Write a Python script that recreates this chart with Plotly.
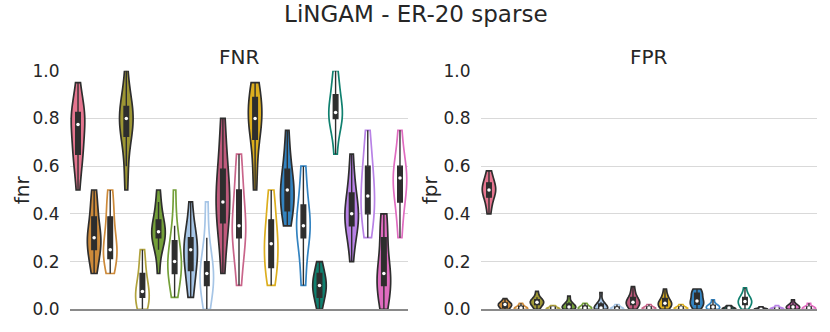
import numpy as np
import plotly.graph_objects as go

# one colour per method, "F" = filled violin, "H" = hollow violin
colors = ["#e5758f", "#cd8a3a", "#cd8a3a", "#9d9634", "#b0a23c", "#74a03a", "#74a03a",
          "#a6c5e6", "#a6c5e6", "#bf5a7c", "#c9658a", "#dcae1e", "#dcae1e",
          "#3383c0", "#3383c0", "#10806f", "#10806f", "#b882e6", "#b882e6",
          "#e06cc0", "#e06cc0"]
styles = ["F", "F", "H", "F", "H", "F", "H", "F", "H", "F", "H",
          "F", "H", "F", "H", "F", "H", "F", "H", "F", "H"]

fnr = [
    [0.5, 0.6, 0.65, 0.65, 0.7, 0.75, 0.8, 0.8, 0.8, 0.85, 0.85, 0.95],
    [0.15, 0.2, 0.25, 0.25, 0.3, 0.3, 0.3, 0.35, 0.4, 0.45, 0.5],
    [0.15, 0.2, 0.2, 0.25, 0.25, 0.25, 0.3, 0.35, 0.4, 0.45, 0.5],
    [0.5, 0.6, 0.7, 0.75, 0.75, 0.8, 0.8, 0.8, 0.85, 0.85, 0.9, 1.0],
    [0.0, 0.0, 0.05, 0.05, 0.05, 0.1, 0.1, 0.15, 0.2, 0.25],
    [0.15, 0.25, 0.3, 0.3, 0.3, 0.3, 0.35, 0.35, 0.35, 0.4, 0.45, 0.5],
    [0.05, 0.1, 0.15, 0.15, 0.2, 0.2, 0.2, 0.25, 0.3, 0.35, 0.5],
    [0.05, 0.1, 0.15, 0.2, 0.2, 0.25, 0.25, 0.3, 0.3, 0.35, 0.45],
    [0.0, 0.05, 0.1, 0.1, 0.15, 0.15, 0.2, 0.2, 0.3, 0.45],
    [0.15, 0.3, 0.35, 0.4, 0.45, 0.45, 0.5, 0.55, 0.6, 0.7, 0.8],
    [0.1, 0.2, 0.3, 0.3, 0.35, 0.35, 0.4, 0.5, 0.55, 0.65],
    [0.5, 0.6, 0.7, 0.75, 0.8, 0.8, 0.8, 0.85, 0.9, 0.9, 0.95],
    [0.1, 0.15, 0.15, 0.2, 0.25, 0.25, 0.3, 0.3, 0.35, 0.4, 0.45, 0.5],
    [0.35, 0.4, 0.4, 0.45, 0.5, 0.5, 0.5, 0.55, 0.6, 0.65, 0.75],
    [0.1, 0.15, 0.3, 0.3, 0.35, 0.35, 0.35, 0.4, 0.45, 0.55, 0.6],
    [0.0, 0.05, 0.05, 0.1, 0.1, 0.1, 0.15, 0.15, 0.2],
    [0.65, 0.75, 0.8, 0.8, 0.8, 0.85, 0.85, 0.9, 0.95, 1.0],
    [0.2, 0.3, 0.35, 0.35, 0.4, 0.4, 0.4, 0.45, 0.5, 0.55, 0.65],
    [0.3, 0.35, 0.4, 0.45, 0.45, 0.5, 0.55, 0.6, 0.65, 0.75],
    [0.0, 0.05, 0.1, 0.1, 0.15, 0.15, 0.2, 0.3, 0.35, 0.4],
    [0.3, 0.4, 0.45, 0.5, 0.55, 0.55, 0.55, 0.6, 0.65, 0.75],
]

fpr = [
    [0.4, 0.44, 0.47, 0.49, 0.5, 0.5, 0.51, 0.53, 0.55, 0.58],
    [0.0, 0.0, 0.01, 0.015, 0.02, 0.02, 0.025, 0.03, 0.045],
    [0.0, 0.0, 0.0, 0.005, 0.005, 0.01, 0.015, 0.025],
    [0.0, 0.01, 0.02, 0.025, 0.03, 0.03, 0.035, 0.04, 0.05, 0.075],
    [0.0, 0.0, 0.0, 0.005, 0.005, 0.01, 0.015],
    [0.0, 0.0, 0.005, 0.01, 0.01, 0.015, 0.02, 0.03, 0.055],
    [0.0, 0.0, 0.005, 0.005, 0.01, 0.015, 0.025],
    [0.0, 0.0, 0.0, 0.005, 0.005, 0.01, 0.02, 0.03, 0.07],
    [0.0, 0.0, 0.0, 0.005, 0.01, 0.02],
    [0.0, 0.01, 0.02, 0.025, 0.03, 0.03, 0.04, 0.05, 0.07, 0.095],
    [0.0, 0.0, 0.005, 0.005, 0.01, 0.02],
    [0.0, 0.01, 0.015, 0.02, 0.025, 0.025, 0.035, 0.045, 0.06, 0.085],
    [0.0, 0.0, 0.005, 0.005, 0.01, 0.02],
    [0.0, 0.01, 0.02, 0.025, 0.03, 0.035, 0.05, 0.06, 0.07, 0.075, 0.085],
    [0.0, 0.0, 0.005, 0.01, 0.01, 0.015, 0.02, 0.04],
    [0.0, 0.0, 0.0, 0.005, 0.005, 0.01, 0.015],
    [0.0, 0.01, 0.02, 0.025, 0.03, 0.035, 0.045, 0.05, 0.06, 0.09],
    [0.0, 0.0, 0.0, 0.0, 0.005, 0.01],
    [0.0, 0.0, 0.0, 0.005, 0.005, 0.015],
    [0.0, 0.0, 0.005, 0.01, 0.01, 0.015, 0.02, 0.04],
    [0.0, 0.0, 0.005, 0.005, 0.01, 0.025],
]

ytick_vals = [0.0, 0.2, 0.4, 0.6, 0.8, 1.0]
ytick_text = ["0.0", "0.2", "0.4", "0.6", "0.8", "1.0"]

DARK = "#2e2e2e"
fig = go.Figure()

for panel, (data, xa, ya) in enumerate([(fnr, "x", "y"), (fpr, "x2", "y2")]):
    for i, vals in enumerate(data):
        v = np.array(vals)
        # seaborn-style scott bandwidth
        bw = max(np.std(v, ddof=1) * len(v) ** -0.2, 1e-3)
        filled = styles[i] == "F"
        fig.add_trace(go.Violin(
            y=v, x0=i, xaxis=xa, yaxis=ya,
            width=0.84, spanmode="hard", bandwidth=bw,
            points=False, scalemode="width",
            fillcolor=colors[i] if filled else "white",
            opacity=1,
            line=dict(color=DARK if filled else colors[i], width=1.7),
            box=dict(visible=True, width=0.34, fillcolor=DARK,
                     line=dict(color=DARK, width=1.4)),
            meanline=dict(visible=False),
            hoverinfo="skip", showlegend=False,
        ))
    fig.add_trace(go.Scatter(
        x=list(range(len(data))), y=[np.median(v) for v in data],
        xaxis=xa, yaxis=ya, mode="markers",
        marker=dict(color="white", size=3.5),
        hoverinfo="skip", showlegend=False,
    ))

yax = dict(range=[0, 1], domain=[0.0684, 0.787], tickvals=ytick_vals,
           ticktext=ytick_text, showgrid=True, gridcolor="#d9d9d9",
           gridwidth=1, zeroline=False, showline=False, ticks="outside",
           ticklen=6, tickcolor="rgba(0,0,0,0)", automargin=False,
           tickfont=dict(size=17, color="#262626"))
xax = dict(range=[-0.5, 20.5], showticklabels=False, showgrid=False,
           zeroline=False, showline=True, linecolor="#8a8a8a", linewidth=2,
           ticks="", automargin=False)

fig.update_layout(
    width=830, height=332,
    margin=dict(l=0, r=0, t=0, b=0),
    paper_bgcolor="white", plot_bgcolor="white",
    font=dict(family="DejaVu Sans", color="#262626"),
    violinmode="overlay",
    title=dict(text="LiNGAM - ER-20 sparse", x=0.501, y=0.958,
               xanchor="center", yanchor="middle",
               font=dict(size=23, color="#262626")),
    xaxis=dict(xax, domain=[0.0843, 0.4916], anchor="y"),
    yaxis=dict(yax, anchor="x"),
    xaxis2=dict(xax, domain=[0.5795, 0.9843], anchor="y2"),
    yaxis2=dict(yax, anchor="x2"),
    annotations=[
        dict(text="FNR", x=0.288, y=0.828, xref="paper", yref="paper",
             showarrow=False, font=dict(size=20), xanchor="center", yanchor="middle"),
        dict(text="FPR", x=0.782, y=0.828, xref="paper", yref="paper",
             showarrow=False, font=dict(size=20), xanchor="center", yanchor="middle"),
        dict(text="fnr", x=0.0265, y=0.43, xref="paper", yref="paper",
             showarrow=False, textangle=-90, font=dict(size=20),
             xanchor="center", yanchor="middle"),
        dict(text="fpr", x=0.518, y=0.43, xref="paper", yref="paper",
             showarrow=False, textangle=-90, font=dict(size=20),
             xanchor="center", yanchor="middle"),
    ],
)

# the page's default body margin would shift the figure by 8px
fig.write_html("out.html", config={"displayModeBar": False},
               post_script="document.body.style.margin='0';")
